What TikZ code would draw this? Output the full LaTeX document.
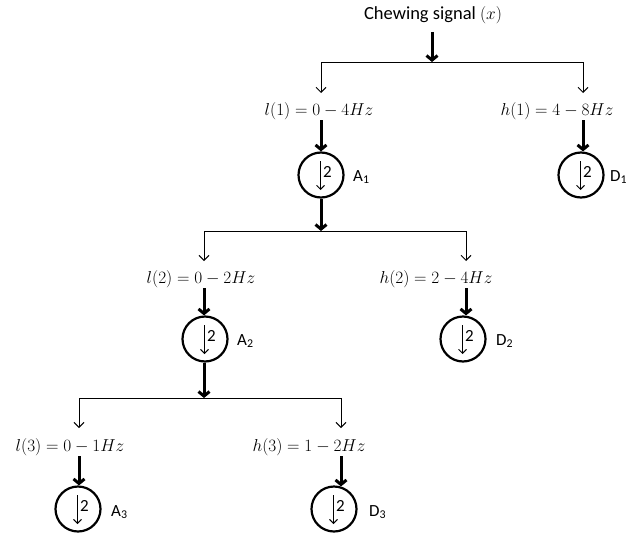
\documentclass[tikz,border=0pt]{standalone}
\usepackage{fontspec}
\setmainfont{Carlito}
\usetikzlibrary{arrows.meta}
\tikzset{
  split/.style={line width=1pt},
  thinarr/.style={line width=1pt,-{Straight Barb[length=5pt,width=10pt]}},
  bigarr/.style={line width=3pt,-{Straight Barb[length=4.5pt,width=11pt]}},
  innerarr/.style={line width=0.9pt,-{Straight Barb[length=4pt,width=8pt]}},
  band/.style={font=\fontsize{18.5}{20}\selectfont, inner sep=0pt},
  title/.style={font=\fontsize{18.5}{20}\selectfont, inner sep=0pt},
  dec/.style={circle,draw,line width=2.2pt,minimum size=45pt,inner sep=0pt},
  declabel/.style={font=\fontsize{17}{18}\selectfont, anchor=west, inner sep=0pt},
  factor/.style={font=\fontsize{17}{18}\selectfont, inner sep=0pt},
}
\newcommand{\downsamp}[1]{%
  \draw[innerarr] ([xshift=-0.5pt,yshift=14pt]#1.center) -- ([xshift=-0.5pt,yshift=-15pt]#1.center);
  \node[factor] (#1f) at ([xshift=6.5pt,yshift=3pt]#1.center) {2};
}
\begin{document}
\begin{tikzpicture}[x=1pt,y=-1pt]
\useasboundingbox (0,0) rectangle (628,535);

% input signal and first split
\node[title] (sig) at (433,15) {Chewing signal $(x)$};
\coordinate (s0) at (432,32);
\coordinate (j0) at (432,62);
\coordinate (j0L) at (321,62);
\coordinate (j0R) at (583,62);
\draw[bigarr] (s0) -- (j0);
\draw[split] (j0L) -- (j0R);

% level 1
\coordinate (t1L) at (321,93);
\coordinate (t1R) at (583,93);
\draw[thinarr] (j0L) -- (t1L);
\draw[thinarr] (j0R) -- (t1R);
\node[band] (l1) at (319,111) {$l(1) = 0 - 4Hz$};
\node[band] (h1) at (557,111) {$h(1) = 4 - 8Hz$};
\node[dec] (a1) at (321,175) {};
\node[dec] (d1) at (581,175) {};
\downsamp{a1}
\downsamp{d1}
\node[declabel] (a1l) at (353,177) {A\textsubscript{1}};
\node[declabel] (d1l) at (610,177) {D\textsubscript{1}};
\coordinate (k1L) at (321,120);
\coordinate (k1R) at (583,120);
\draw[bigarr] (k1L) -- (a1.north);
\draw[bigarr] (k1R) -- (d1.north -| k1R);

% second split
\coordinate (j1) at (321,231);
\coordinate (j1L) at (204,231);
\coordinate (j1R) at (466,231);
\draw[bigarr] (a1.south) -- (j1);
\draw[split] (j1L) -- (j1R);

% level 2
\coordinate (t2L) at (204,261);
\coordinate (t2R) at (466,261);
\draw[thinarr] (j1L) -- (t2L);
\draw[thinarr] (j1R) -- (t2R);
\node[band] (l2) at (201,279) {$l(2) = 0 - 2Hz$};
\node[band] (h2) at (436,279) {$h(2) = 2 - 4Hz$};
\node[dec] (a2) at (205,339) {};
\node[dec] (d2) at (463,339) {};
\downsamp{a2}
\downsamp{d2}
\node[declabel] (a2l) at (237,341) {A\textsubscript{2}};
\node[declabel] (d2l) at (496,341) {D\textsubscript{2}};
\coordinate (k2L) at (204,288);
\coordinate (k2R) at (466,288);
\draw[bigarr] (k2L) -- (a2.north -| k2L);
\draw[bigarr] (k2R) -- (d2.north -| k2R);

% third split
\coordinate (j2) at (204,398);
\coordinate (j2L) at (79,398);
\coordinate (j2R) at (341,398);
\draw[bigarr] (a2.south -| j2) -- (j2);
\draw[split] (j2L) -- (j2R);

% level 3
\coordinate (t3L) at (79,428);
\coordinate (t3R) at (341,428);
\draw[thinarr] (j2L) -- (t3L);
\draw[thinarr] (j2R) -- (t3R);
\node[band] (l3) at (70,447) {$l(3) = 0 - 1Hz$};
\node[band] (h3) at (309,447) {$h(3) = 1 - 2Hz$};
\node[dec] (a3) at (78,509) {};
\node[dec] (d3) at (334,509) {};
\downsamp{a3}
\downsamp{d3}
\node[declabel] (a3l) at (111,512) {A\textsubscript{3}};
\node[declabel] (d3l) at (369,512) {D\textsubscript{3}};
\coordinate (k3L) at (79,456);
\coordinate (k3R) at (341,456);
\draw[bigarr] (k3L) -- (a3.north -| k3L);
\draw[bigarr] (k3R) -- ([yshift=-1pt]d3.north -| k3R);
\end{tikzpicture}
\end{document}
